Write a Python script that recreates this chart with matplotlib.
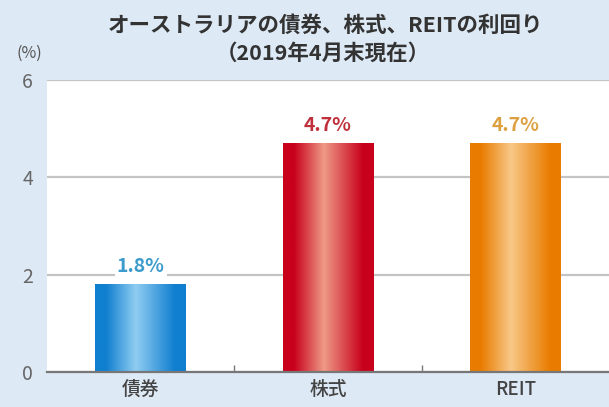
import numpy as np
import matplotlib
matplotlib.use('Agg')
import matplotlib.pyplot as plt
from matplotlib.colors import LinearSegmentedColormap

plt.rcParams['font.family'] = ['Noto Sans CJK JP', 'DejaVu Sans']

categories = ['債券', '株式', 'REIT']
values = [1.8, 4.7, 4.7]
value_labels = ['1.8%', '4.7%', '4.7%']
edge_colors = ['#0f7fcf', '#c8001c', '#e97c00']
mid_colors = ['#90cdf2', '#ee9a86', '#f8c888']
label_colors = ['#3a9bcc', '#c0303c', '#dca040']
yticks = [0, 2, 4, 6]

bg = '#dde9f4'
fig = plt.figure(figsize=(6.09, 4.07), dpi=100)
fig.patch.set_facecolor(bg)
ax = fig.add_axes([47 / 609, 1 - 372 / 407, 1 - 47 / 609, (372 - 80) / 407])
ax.set_facecolor('white')

x = np.arange(len(categories))
bars = ax.bar(x, values, width=0.485, zorder=3, linewidth=0)

# horizontal gradient inside each bar
grad = np.linspace(0, 1, 256)
for bar, c0, c1 in zip(bars, edge_colors, mid_colors):
    cmap = LinearSegmentedColormap.from_list('g', [(0, c0), (0.12, c0), (0.45, c1), (0.88, c0), (1, c0)])
    bx, by = bar.get_x(), bar.get_y()
    bw, bh = bar.get_width(), bar.get_height()
    im = ax.imshow(grad[np.newaxis, :], cmap=cmap, aspect='auto',
                   extent=[bx, bx + bw, by, by + bh], zorder=4)
    im.set_clip_path(bar)

for xi, v, lab, col in zip(x, values, value_labels, label_colors):
    ax.text(xi, v + 0.36, lab, ha='center', va='center', fontsize=14,
            fontweight='bold', color=col, zorder=5,
            bbox=dict(facecolor='white', edgecolor='none', pad=1.5))

ax.set_xlim(-0.5, 2.5)
ax.set_ylim(0, 6)
ax.set_yticks(yticks)
ax.set_yticklabels([str(t) for t in yticks], fontsize=14, color='#666666')
ax.yaxis.grid(True, color='#c4c4c4', linewidth=1.6, zorder=1)
ax.set_axisbelow(True)
ax.set_xticks(x)
ax.set_xticklabels(categories, fontsize=13.5, color='#444444', fontweight='medium')
ax.set_xticks([0.5, 1.5], minor=True)
ax.tick_params(axis='x', which='major', length=0, pad=6)
ax.tick_params(axis='x', which='minor', direction='in', length=5, color='#777777', width=1)
ax.tick_params(axis='y', length=0, pad=10)
for s in ['top', 'right', 'left']:
    ax.spines[s].set_visible(False)
ax.spines['bottom'].set_color('#777777')
ax.spines['bottom'].set_linewidth(1.6)
ax.spines['bottom'].set_zorder(6)

fig.text(325 / 609, 1 - 25 / 407, 'オーストラリアの債券、株式、REITの利回り', ha='center', va='center',
         fontsize=15.5, fontweight='bold', color='#333333')
fig.text(323 / 609, 1 - 53 / 407, '（2019年4月末現在）', ha='center', va='center',
         fontsize=15.5, fontweight='bold', color='#333333')
fig.text(29 / 609, 1 - 53 / 407, '(%)', ha='center', va='center', fontsize=11.5, color='#555555')

fig.savefig('out.png', dpi=100, facecolor=bg)
